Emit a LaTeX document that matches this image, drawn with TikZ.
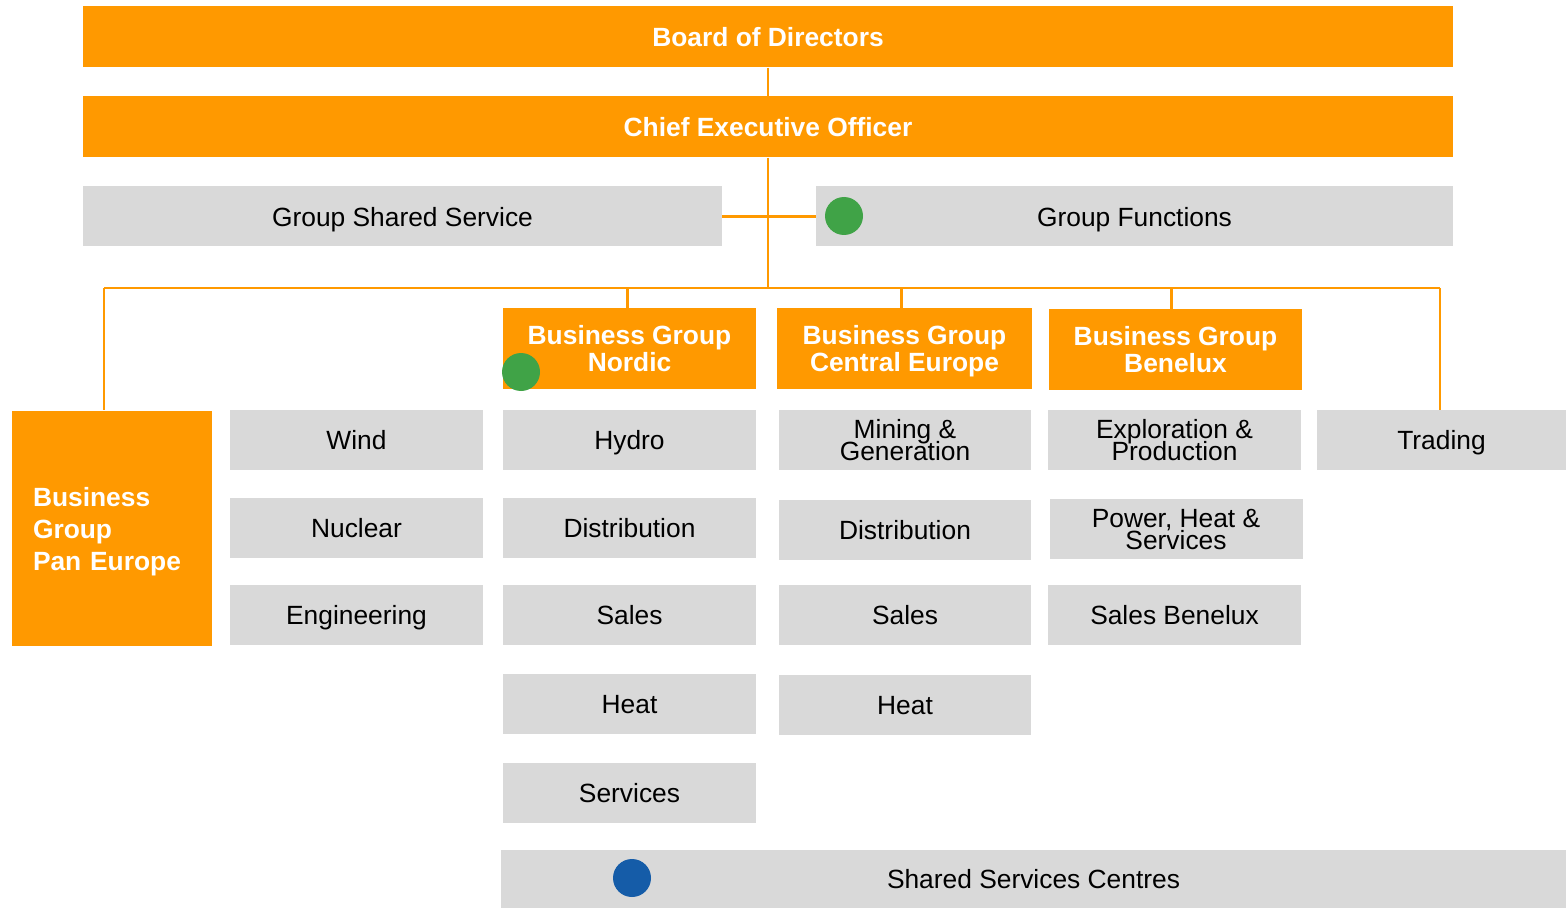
\documentclass[tikz,border=0pt]{standalone}
\usepackage{fontspec}
\setmainfont{Liberation Sans}
\definecolor{orgOrange}{RGB}{255,153,0}
\definecolor{unitGrey}{RGB}{217,217,217}
\definecolor{dotGreen}{RGB}{64,163,71}
\definecolor{dotBlue}{RGB}{21,92,168}
\newcommand\tightLines{\lineskiplimit=-50pt\relax}

\begin{document}
\begin{tikzpicture}
    [headNode/.style = {fill = orgOrange, text = white, inner sep = 0pt,
                        minimum width = 27.4cm, minimum height = 1.22cm,
                        text depth = 0pt,
                        font = \bfseries\fontsize{15}{15}\selectfont},
     groupNode/.style = {fill = orgOrange, text = white, inner sep = 0pt,
                         align = center, minimum width = 5.06cm,
                         minimum height = 1.62cm, text depth = 0pt,
                         font = \bfseries\fontsize{15}{15.3}\selectfont\tightLines},
     panNode/.style = {fill = orgOrange, text = white, inner xsep = 0.42cm,
                       inner ysep = 0pt, align = left, text width = 3.16cm,
                       minimum height = 4.7cm, text depth = 35pt,
                       font = \bfseries\fontsize{15}{18.2}\selectfont},
     unitNode/.style = {fill = unitGrey, inner sep = 0pt, align = center,
                        minimum width = 5.06cm, minimum height = 1.2cm,
                        text depth = 0pt,
                        font = \fontsize{15}{12.5}\selectfont\tightLines},
     greenDot/.style = {circle, fill = dotGreen, inner sep = 0pt,
                        minimum size = 0.76cm},
     blueDot/.style = {circle, fill = dotBlue, inner sep = 0pt,
                       minimum size = 0.76cm},
     link/.style = {draw = orgOrange, line width = 1.2pt}]

    \useasboundingbox (0,0) rectangle (31.32,-18.16);

    \node at (15.36,-0.74) [headNode] (board) {Board of Directors};
    \node at (15.36,-2.54) [headNode] (ceo)   {Chief Executive Officer};

    \node at (8.05, -4.33) [unitNode, minimum width = 12.78cm] (gss) {Group Shared Service};
    \node at (22.69,-4.33) [unitNode, minimum width = 12.74cm] (gfn) {Group Functions};

    \coordinate (busL) at (2.08,-5.76);
    \coordinate (busR) at (28.8,-5.76);

    \node at (12.59,-6.97) [groupNode] (nordic)  {Business Group\\Nordic};
    \node at (18.09,-6.97) [groupNode, minimum width = 5.1cm] (central) {Business Group\\Central Europe};
    \node at (23.51,-6.99) [groupNode] (benelux) {Business Group\\Benelux};
    \node at (2.24,-10.56) [panNode]   (pan)     {Business\\Group\\Pan Europe};

    % pan europe
    \node at (7.13, -8.8)  [unitNode] (wind)     {Wind};
    \node at (7.13, -10.56)[unitNode] (nuclear)  {Nuclear};
    \node at (7.13, -12.3) [unitNode] (engineer) {Engineering};

    % nordic
    \node at (12.59,-8.8)  [unitNode] (hydro)    {Hydro};
    \node at (12.59,-10.56)[unitNode] (norDist)  {Distribution};
    \node at (12.59,-12.3) [unitNode] (norSales) {Sales};
    \node at (12.59,-14.08)[unitNode] (norHeat)  {Heat};
    \node at (12.59,-15.86)[unitNode] (norServ)  {Services};

    % central europe
    \node at (18.1, -8.8)  [unitNode, minimum width = 5.04cm] (mining)   {Mining \&\\Generation};
    \node at (18.1, -10.6) [unitNode, minimum width = 5.04cm] (cenDist)  {Distribution};
    \node at (18.1, -12.3) [unitNode, minimum width = 5.04cm] (cenSales) {Sales};
    \node at (18.1, -14.1) [unitNode, minimum width = 5.04cm] (cenHeat)  {Heat};

    % benelux
    \node at (23.49,-8.8)  [unitNode] (explore)  {Exploration \&\\Production};
    \node at (23.52,-10.58)[unitNode] (power)    {Power, Heat \&\\Services};
    \node at (23.49,-12.3) [unitNode] (benSales) {Sales Benelux};

    \node at (28.83,-8.8)  [unitNode, minimum width = 4.98cm] (trading) {Trading};

    \node at (20.67,-17.58)[unitNode, minimum width = 21.3cm, minimum height = 1.16cm] (ssc) {Shared Services Centres};

    \node at (16.88,-4.32) [greenDot] (gfnDot) {};
    \node at (10.42,-7.44) [greenDot] (norDot) {};
    \node at (12.64,-17.56)[blueDot]  (sscDot) {};

    \path [link]
      (board) edge (ceo)
      (ceo.south) edge (ceo.south |- busL)
      (gss) edge (gfn)
      (busL) edge (busR)
      (busL) edge (busL |- pan.north)
      (busR) edge (busR |- trading.north)
      ([xshift = -0.04cm] nordic.north) edge ([xshift = -0.04cm] nordic.north |- busL)
      ([xshift = -0.06cm] central.north) edge ([xshift = -0.06cm] central.north |- busL)
      ([xshift = -0.08cm] benelux.north) edge ([xshift = -0.08cm] benelux.north |- busL);
  \end{tikzpicture}
\end{document}
